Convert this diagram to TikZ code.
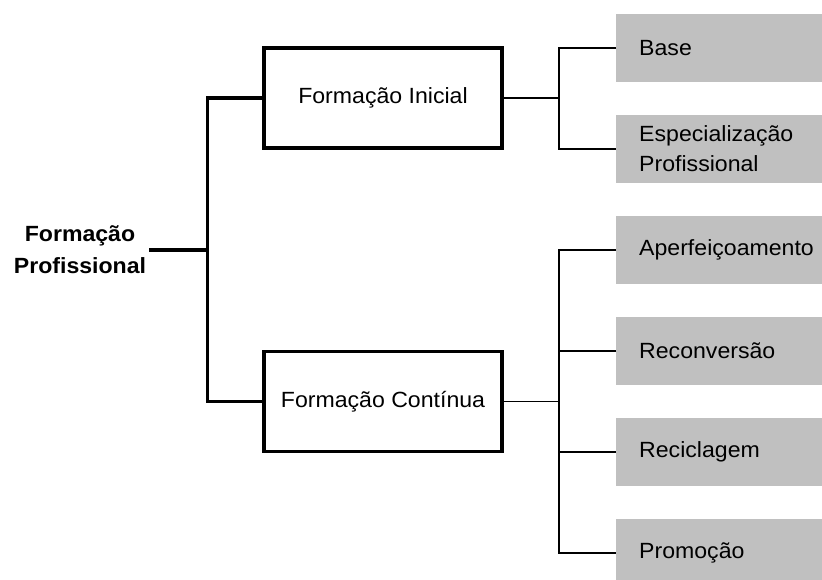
\documentclass[tikz,border=0pt]{standalone}
\usepackage{fontspec}
\setmainfont{Liberation Sans}[FakeStretch=1.05]
\definecolor{leafgray}{RGB}{192,192,192}
\begin{document}
\begin{tikzpicture}[
  x=1pt, y=-1pt,
  every node/.style={font=\fontsize{22}{30}\selectfont},
  mainbox/.style={draw, line width=3.5pt, minimum width=238pt, minimum height=100pt,
    inner sep=0pt, align=center},
  leaf/.style={fill=leafgray, anchor=west, minimum width=206pt, minimum height=68pt,
    text width=160pt, inner xsep=0pt, inner ysep=0pt, align=left},
  thickln/.style={line width=3.5pt},
  thinln/.style={line width=1.8pt},
]
% page frame
\clip (0,0) rectangle (822,580);
\fill[white] (0,0) rectangle (822,580);

% root label
\node[font=\fontsize{22}{32}\bfseries\selectfont, align=center, inner xsep=3pt] (root) at (80,250)
  {Formação\\Profissional};

% two main branches
\node[mainbox] (ini)  at (383,98)    {Formação Inicial};
\node[mainbox] (cont) at (383,401.5) {Formação Contínua};

% leaves
\node[leaf] (base)  at (616,48)  {Base};
\node[leaf] (spec)  at (616,149) {Especialização\\Profissional};
\node[leaf] (aper)  at (616,250) {Aperfeiçoamento};
\node[leaf] (recon) at (616,351) {Reconversão};
\node[leaf] (recic) at (616,452) {Reciclagem};
\node[leaf] (prom)  at (616,553) {Promoção};

% junction columns
\coordinate (j0) at (207.5,250);
\coordinate (j1) at (559,250);

% root connectors
\draw[thickln] (root.east) -- (j0);
\draw[thickln] (ini.west) -- (ini.west -| j0) -- (cont.west -| j0) -- (cont.west);

% initial training branch
\draw[thinln] (ini.east) -- (ini.east -| j1);
\draw[thinln] (base.west) -- (base.west -| j1) -- (spec.west -| j1) -- (spec.west);

% continuing training branch
\draw[thinln] (cont.east) -- (cont.east -| j1);
\draw[thinln] (aper.west) -- (aper.west -| j1) -- (prom.west -| j1) -- (prom.west);
\draw[thinln] (recon.west) -- (recon.west -| j1);
\draw[thinln] (recic.west) -- (recic.west -| j1);
\end{tikzpicture}
\end{document}
